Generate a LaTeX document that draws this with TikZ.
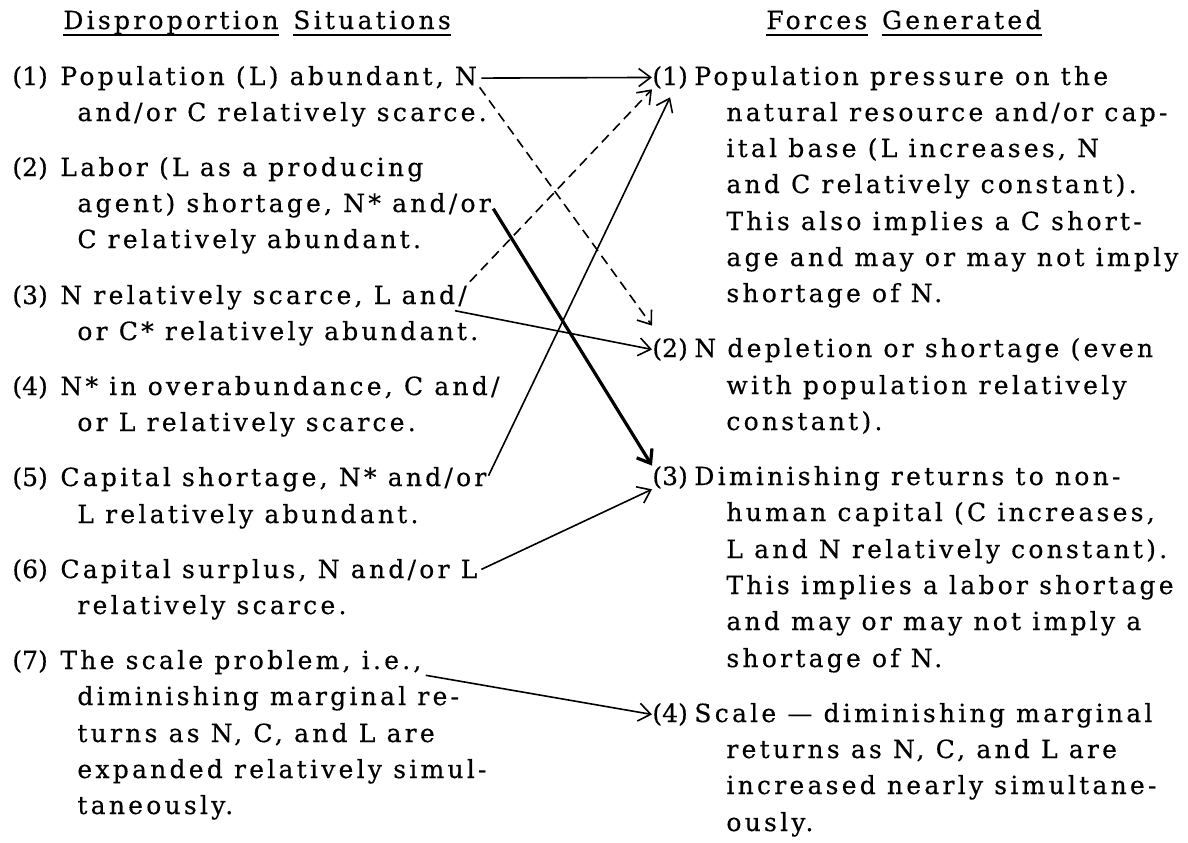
\documentclass[tikz,border=0pt]{standalone}
\usepackage{fontspec}
\setmainfont{DejaVu Serif}[LetterSpace=13, FakeBold=0.4]
\newfontfamily\lblfont{DejaVu Serif}[FakeBold=0.4]
\usepackage{tikz}
\usetikzlibrary{arrows.meta}
\tikzstyle{txt} = [inner sep=0pt, anchor=base west, font=\fontsize{12.5pt}{18pt}\selectfont]
\tikzstyle{lbl} = [txt, font=\fontsize{12.5pt}{18pt}\lblfont]
\tikzstyle{arrow} = [thick,->,>={Straight Barb[length=6pt,width=9pt]}, shorten <=2pt]
\tikzstyle{arrow_2} = [line width=1.6pt,->,>={Straight Barb[length=6pt,width=9pt]}, shorten <=2pt]
\tikzstyle{arrow_dash} = [arrow, dash pattern=on 5pt off 3pt]
\tikzstyle{uline} = [line width=1.4pt]

\begin{document}
\begin{tikzpicture}[x=0.5pt, y=-0.5pt]
        \useasboundingbox (0,0) rectangle (1188,842);

        % headings
        \node (h1a) [txt] at (63,29) {Disproportion};
        \node (h1b) [txt, at={(h1a.base east)}, xshift=7pt] {Situations};
        \node (h2a) [txt] at (766,29) {Forces};
        \node (h2b) [txt, at={(h2a.base east)}, xshift=7pt] {Generated};
        \draw [uline] ([yshift=-3pt]h1a.base west) -- ([yshift=-3pt]h1a.base east);
        \draw [uline] ([yshift=-3pt]h1b.base west) -- ([yshift=-3pt]h1b.base east);
        \draw [uline] ([yshift=-3pt]h2a.base west) -- ([yshift=-3pt]h2a.base east);
        \draw [uline] ([yshift=-3pt]h2b.base west) -- ([yshift=-3pt]h2b.base east);

        % disproportion situations
        \node (d1) [lbl] at (12,85) {(1)};
        \node (d1a) [txt] at (60,85) {Population (L) abundant, N};
        \node (d1b) [txt] at (77,121) {and/or C relatively scarce.};

        \node (d2) [lbl] at (12,176) {(2)};
        \node (d2a) [txt] at (60,176) {Labor (L as a producing};
        \node (d2b) [txt] at (77,212) {agent) shortage, N* and/or};
        \node (d2c) [txt] at (77,248) {C relatively abundant.};

        \node (d3) [lbl] at (12,304) {(3)};
        \node (d3a) [txt] at (60,304) {N relatively scarce, L and/};
        \node (d3b) [txt] at (77,340) {or C* relatively abundant.};

        \node (d4) [lbl] at (12,395) {(4)};
        \node (d4a) [txt] at (60,395) {N* in overabundance, C and/};
        \node (d4b) [txt] at (77,431) {or L relatively scarce.};

        \node (d5) [lbl] at (12,486) {(5)};
        \node (d5a) [txt] at (60,486) {Capital shortage, N* and/or};
        \node (d5b) [txt] at (77,523) {L relatively abundant.};

        \node (d6) [lbl] at (12,578) {(6)};
        \node (d6a) [txt] at (60,578) {Capital surplus, N and/or L};
        \node (d6b) [txt] at (77,614) {relatively scarce.};

        \node (d7) [lbl] at (12,669) {(7)};
        \node (d7a) [txt] at (60,669) {The scale problem, i.e.,};
        \node (d7b) [txt] at (77,705) {diminishing marginal re-};
        \node (d7c) [txt] at (77,742) {turns as N, C, and L are};
        \node (d7d) [txt] at (77,778) {expanded relatively simul-};
        \node (d7e) [txt] at (77,814) {taneously.};

        % forces generated
        \node (f1) [lbl] at (652,85) {(1)};
        \node (f1a) [txt] at (694,85) {Population pressure on the};
        \node (f1b) [txt] at (726,121) {natural resource and/or cap-};
        \node (f1c) [txt] at (726,157) {ital base (L increases, N};
        \node (f1d) [txt] at (726,193) {and C relatively constant).};
        \node (f1e) [txt] at (726,230) {This also implies a C short-};
        \node (f1f) [txt] at (726,266) {age and may or may not imply};
        \node (f1g) [txt] at (726,302) {shortage of N.};

        \node (f2) [lbl] at (652,357) {(2)};
        \node (f2a) [txt] at (694,357) {N depletion or shortage (even};
        \node (f2b) [txt] at (726,394) {with population relatively};
        \node (f2c) [txt] at (726,430) {constant).};

        \node (f3) [lbl] at (652,485) {(3)};
        \node (f3a) [txt] at (694,485) {Diminishing returns to non-};
        \node (f3b) [txt] at (726,521) {human capital (C increases,};
        \node (f3c) [txt] at (726,558) {L and N relatively constant).};
        \node (f3d) [txt] at (726,594) {This implies a labor shortage};
        \node (f3e) [txt] at (726,630) {and may or may not imply a};
        \node (f3f) [txt] at (726,667) {shortage of N.};

        \node (f4) [lbl] at (652,722) {(4)};
        \node (f4a) [txt] at (694,722) {Scale — diminishing marginal};
        \node (f4b) [txt] at (726,758) {returns as N, C, and L are};
        \node (f4c) [txt] at (726,794) {increased nearly simultane-};
        \node (f4d) [txt] at (726,831) {ously.};

        % connections
        \draw [arrow] (d1a.east) -- (f1.west);
        \draw [arrow_dash] ([yshift=-3pt]d1a.east) -- ([yshift=6pt]f2.north west);
        \draw [arrow_dash] (d3a.north east) -- (f1.south west);
        \draw [arrow_2] (d2b.east) -- (f3.north west);
        \draw [arrow] ([xshift=-8pt]d3a.south east) -- (f2.west);
        \draw [arrow] (d5a.east) -- ([yshift=-4pt]f1.south);
        \draw [arrow] (d6a.east) -- (f3.south west);
        \draw [arrow] (d7a.south east) -- (f4.west);
    \end{tikzpicture}
\end{document}
